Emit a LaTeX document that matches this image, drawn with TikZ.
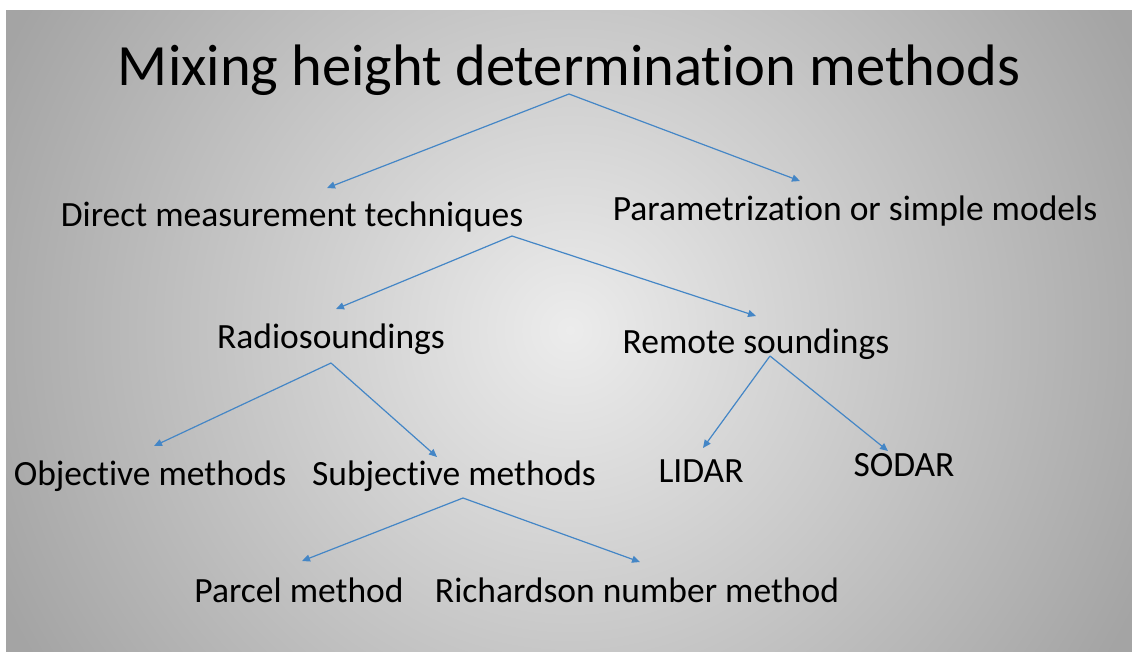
\documentclass[tikz,border=0pt]{standalone}
\usepackage{fontspec}
\setmainfont[RawFeature={-liga,-clig,-calt,-dlig,-hlig}]{Carlito}
\usetikzlibrary{arrows.meta}
\definecolor{bgin}{RGB}{236,236,236}
\definecolor{bgout}{RGB}{164,164,164}
\definecolor{conn}{RGB}{68,134,198}
\newcommand\tiSep{t\kern0pt i}
\begin{document}
\begin{tikzpicture}[x=1pt,y=-1pt,
  lbl/.style={anchor=base,inner sep=0pt,font=\fontsize{35.5}{42}\selectfont,text=black},
  ttl/.style={anchor=base,inner sep=0pt,font=\fontsize{58.5}{66}\selectfont,text=black},
  link/.style={draw=conn,line width=1.2pt,-{Triangle[length=8pt,width=7pt]}}]
\useasboundingbox (0,0) rectangle (1132,651);
\fill[white] (0,0) rectangle (1132,651);
\begin{scope}
\clip (6,10) rectangle (1132,651);
\shade[inner color=bgin,outer color=bgout] (-60,-300) rectangle (1200,960);
\end{scope}
% nodes
\node[ttl] (title) at (569,85) {Mixing height determina\tiSep on methods};
\node[lbl] (direct) at (292,226) {Direct measurement techniques};
\node[lbl] (param) at (855,220) {Parametriza\tiSep on or simple models};
\node[lbl] (radio) at (331,348) {Radiosoundings};
\node[lbl] (remote) at (756,353) {Remote soundings};
\node[lbl] (obj) at (150,485) {Objec\tiSep ve methods};
\node[lbl] (subj) at (454,485) {Subjec\tiSep ve methods};
\node[lbl] (lidar) at (701,482) {LIDAR};
\node[lbl] (sodar) at (904,476) {SODAR};
\node[lbl] (parcel) at (299,602) {Parcel method};
\node[lbl] (rich) at (637,602) {Richardson number method};
% connector points
\coordinate (titleout) at (569,94);
\coordinate (directin) at (327,188);
\coordinate (paramin) at (800,181);
\coordinate (directout) at (512,236);
\coordinate (radioin) at (336,309);
\coordinate (remotein) at (756,316);
\coordinate (radioout) at (331,363);
\coordinate (objin) at (154,446);
\coordinate (subjin) at (437,457);
\coordinate (remoteout) at (770,356);
\coordinate (lidarin) at (703,448);
\coordinate (sodarin) at (888,451);
\coordinate (subjout) at (463,498);
\coordinate (parcelin) at (302,561);
\coordinate (richin) at (640,562);
% connectors
\draw[link] (titleout) -- (directin);
\draw[link] (titleout) -- (paramin);
\draw[link] (directout) -- (radioin);
\draw[link] (directout) -- (remotein);
\draw[link] (radioout) -- (objin);
\draw[link] (radioout) -- (subjin);
\draw[link] (remoteout) -- (lidarin);
\draw[link] (remoteout) -- (sodarin);
\draw[link] (subjout) -- (parcelin);
\draw[link] (subjout) -- (richin);
\end{tikzpicture}
\end{document}
